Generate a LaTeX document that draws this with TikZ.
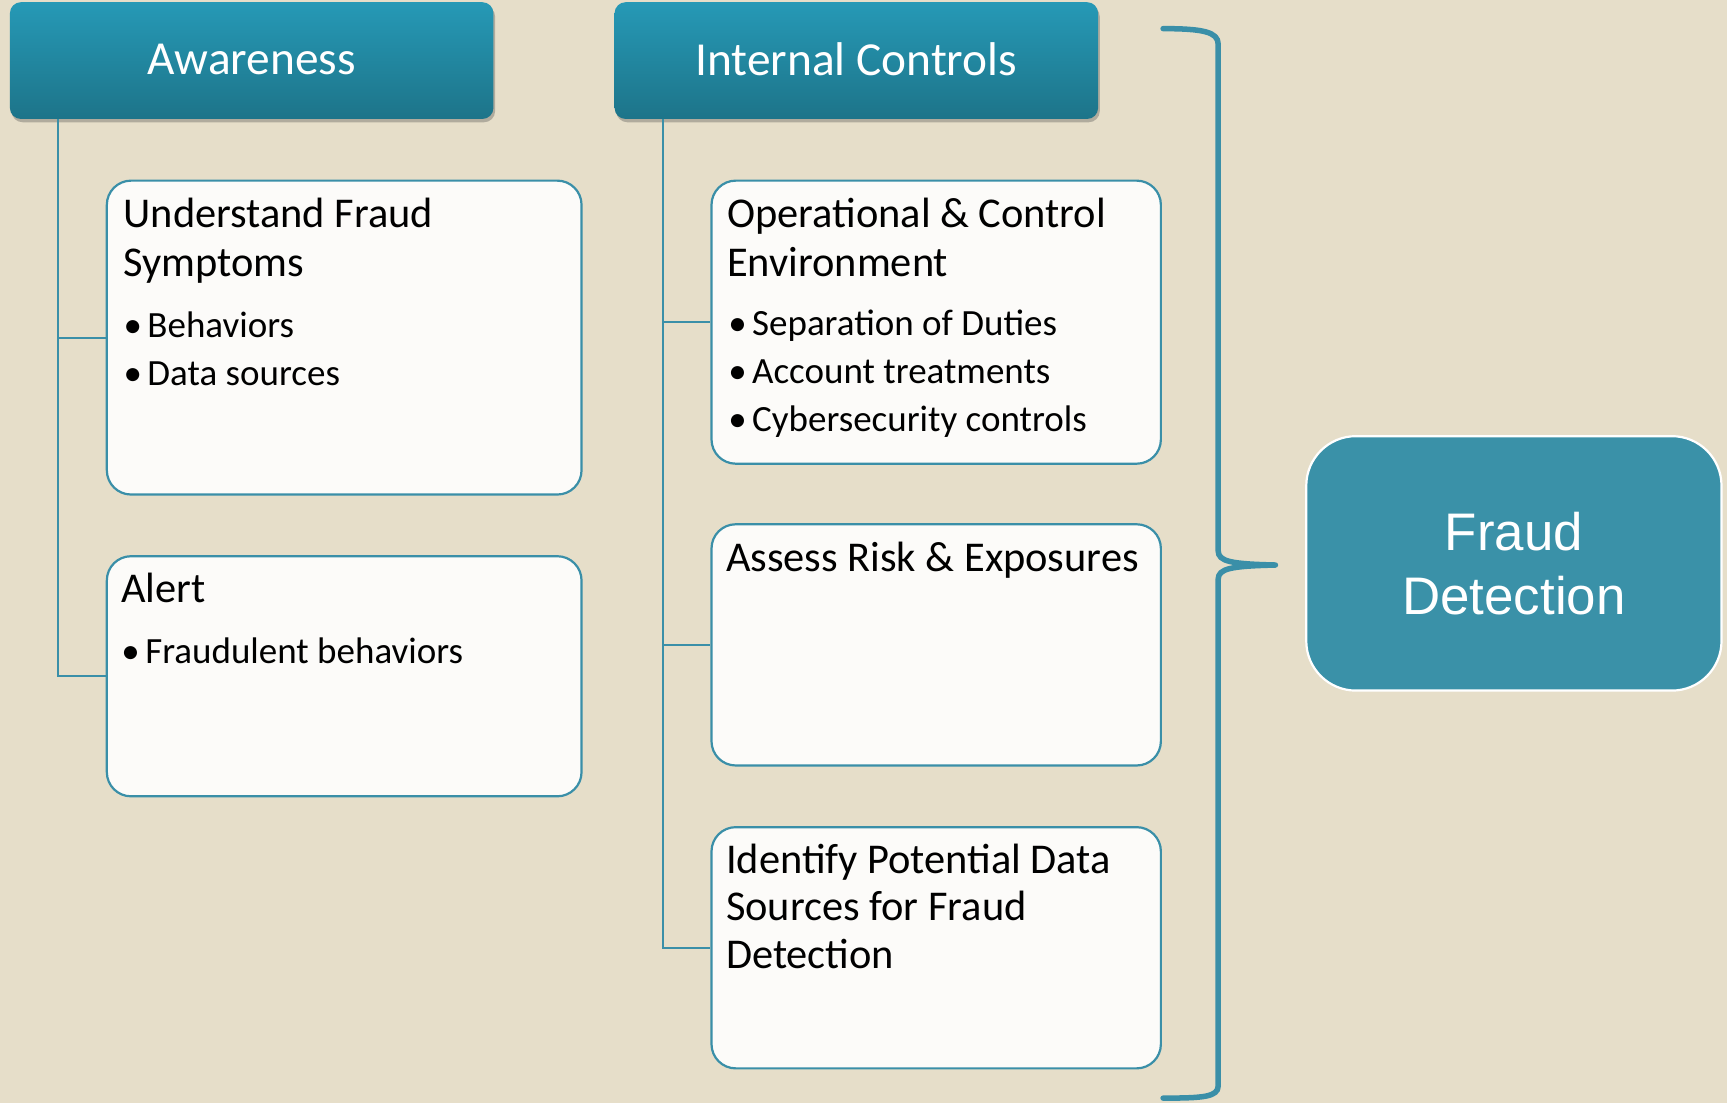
\documentclass[tikz,border=0pt]{standalone}
\usepackage{fontspec}
\setmainfont{Carlito}
\newfontfamily\arialf{Liberation Sans}
\usetikzlibrary{shadows}
\definecolor{bg}{HTML}{E6DEC9}
\definecolor{tealA}{HTML}{2699B6}
\definecolor{tealB}{HTML}{1D7489}
\definecolor{lineteal}{HTML}{3A8FA8}
\definecolor{boxfill}{HTML}{FCFBF9}
\definecolor{fraudfill}{HTML}{3A91A8}
\begin{document}
\begin{tikzpicture}[x=1pt,y=-1pt,
 header/.style={rounded corners=10pt, top color=tealA, bottom color=tealB, draw=none,
   minimum width=439pt, minimum height=106pt, text=white, font=\fontsize{43}{50}\selectfont,
   inner sep=0pt, drop shadow={shadow xshift=1.5pt, shadow yshift=-3pt, opacity=0.35, fill=black!70}},
 cbox/.style={rounded corners=22pt, draw=lineteal, line width=2pt, fill=boxfill, inner sep=0pt},
 head/.style={anchor=base west, align=left, inner sep=0pt, font=\fontsize{38.5}{44}\selectfont},
 bul/.style={anchor=base west, align=left, inner sep=0pt, font=\fontsize{33.6}{43.5}\selectfont},
 conn/.style={draw=lineteal, line width=1.8pt},
 brace/.style={draw=lineteal, line width=5pt, line cap=round, line join=round},
 fraud/.style={rounded corners=45pt, fill=fraudfill, draw=white, line width=2pt, text=white,
   align=center, font=\arialf\fontsize{48}{58}\selectfont, minimum width=377pt, minimum height=231pt, inner sep=0pt}
]
\useasboundingbox (0,0) rectangle (1568,1001);
\fill[bg] (0,0) rectangle (1568,1001);

% headers
\node[header] (aw) at (228.5,55) {\raisebox{2pt}{Awareness}};
\node[header] (ic) at (777.5,55) {\raisebox{2pt}{Internal Controls}};

% content boxes
\node[cbox, minimum width=431pt, minimum height=285pt] (und) at (312.5,306.5) {};
\node[cbox, minimum width=431pt, minimum height=218pt] (alert) at (312.5,614) {};
\node[cbox, minimum width=408pt, minimum height=257pt] (oper) at (850,292.5) {};
\node[cbox, minimum width=408pt, minimum height=219pt] (assess) at (850,585.5) {};
\node[cbox, minimum width=408pt, minimum height=219pt] (ident) at (850,860.5) {};

% trunks
\coordinate (awtrunk) at ([xshift=44pt]aw.south west);
\coordinate (ictrunk) at ([xshift=44pt]ic.south west);
\draw[conn] (awtrunk) |- (und.west);
\draw[conn] (awtrunk) |- (alert.west);
\draw[conn] (ictrunk) |- (oper.west);
\draw[conn] (ictrunk) |- (assess.west);
\draw[conn] (ictrunk) |- (ident.west);

% texts (base anchor = baseline of last line)
\node[head] (undh) at (112,251) {Understand Fraud\\Symptoms};
\node[bul] (undb) at (112,350) {•\hspace{5pt}Behaviors\\•\hspace{5pt}Data sources};
\node[head] (alerth) at (110,547) {Alert};
\node[bul] (alertb) at (110,602) {•\hspace{5pt}Fraudulent behaviors};
\node[head] (operh) at (660,251) {Operational \& Control\\Environment};
\node[bul] (operb) at (661,392) {•\hspace{5pt}Separation of Duties\\•\hspace{5pt}Account treatments\\•\hspace{5pt}Cybersecurity controls};
\node[head] (assessh) at (659,519) {Assess Risk \& Exposures};
\node[head, font=\fontsize{38.5}{43}\selectfont] (identh) at (659,879) {Identify Potential Data\\Sources for Fraud\\Detection};

% brace
\coordinate (btip) at (1158,513);
\draw[brace] (1056,26) .. controls (1092,26) and (1106,29) .. (1106,40)
  -- (1106,500) .. controls (1106,510) and (1118,512) .. (btip)
  .. controls (1118,514) and (1106,516) .. (1106,526)
  -- (1106,986) .. controls (1106,996) and (1092,997) .. (1056,997);

% fraud detection
\node[fraud] (fd) at (1374.5,511.5) {Fraud\\Detection};
\end{tikzpicture}
\end{document}
